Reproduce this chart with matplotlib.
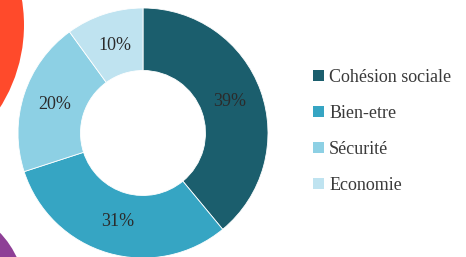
import matplotlib
matplotlib.use('Agg')
import matplotlib.pyplot as plt
from matplotlib.patches import Ellipse, Patch

categories = ['Cohésion sociale', 'Bien-etre', 'Sécurité', 'Economie']
values = [39, 31, 20, 10]
colors = ['#1b5e6d', '#36a5c3', '#8dd0e4', '#bfe3f0']

plt.rcParams['font.family'] = ['Liberation Serif', 'DejaVu Serif']

W, H = 466, 257
fig = plt.figure(figsize=(W / 100, H / 100), dpi=100)

# background shapes of the slide, pixel coords from top-left
def blob(cx, cy, r, color):
    fig.add_artist(Ellipse((cx / W, 1 - cy / H), 2 * r / W, 2 * r / H,
                           color=color, lw=0, transform=fig.transFigure))

blob(-130, 25, 154, '#ff4a2b')
blob(-65, 295, 90, '#8e3f96')

# donut: centre (143,133), radius 125 px
ax = fig.add_axes([(143 - 125) / W, (H - 133 - 125) / H, 250 / W, 250 / H])
wedges, texts, autotexts = ax.pie(
    values, colors=colors, startangle=90, counterclock=False,
    autopct='%d%%', pctdistance=0.74, radius=1,
    wedgeprops=dict(width=0.5, edgecolor='white', linewidth=0.6),
    textprops=dict(fontsize=13, color='#2b2b2b', family='Liberation Serif'))
ax.set_xlim(-1, 1)
ax.set_ylim(-1, 1)
ax.axis('off')

handles = [Patch(facecolor=c, edgecolor='none') for c in colors]
fig.legend(handles, categories, loc='upper left',
           bbox_to_anchor=(313 / W, 1 - 69 / H), frameon=False,
           prop=dict(family='Liberation Serif', size=13), labelcolor='#3a3a3a',
           handlelength=0.6, handleheight=0.6, handletextpad=0.3,
           labelspacing=1.05, borderpad=0, borderaxespad=0)

fig.savefig('out.png', dpi=100)
